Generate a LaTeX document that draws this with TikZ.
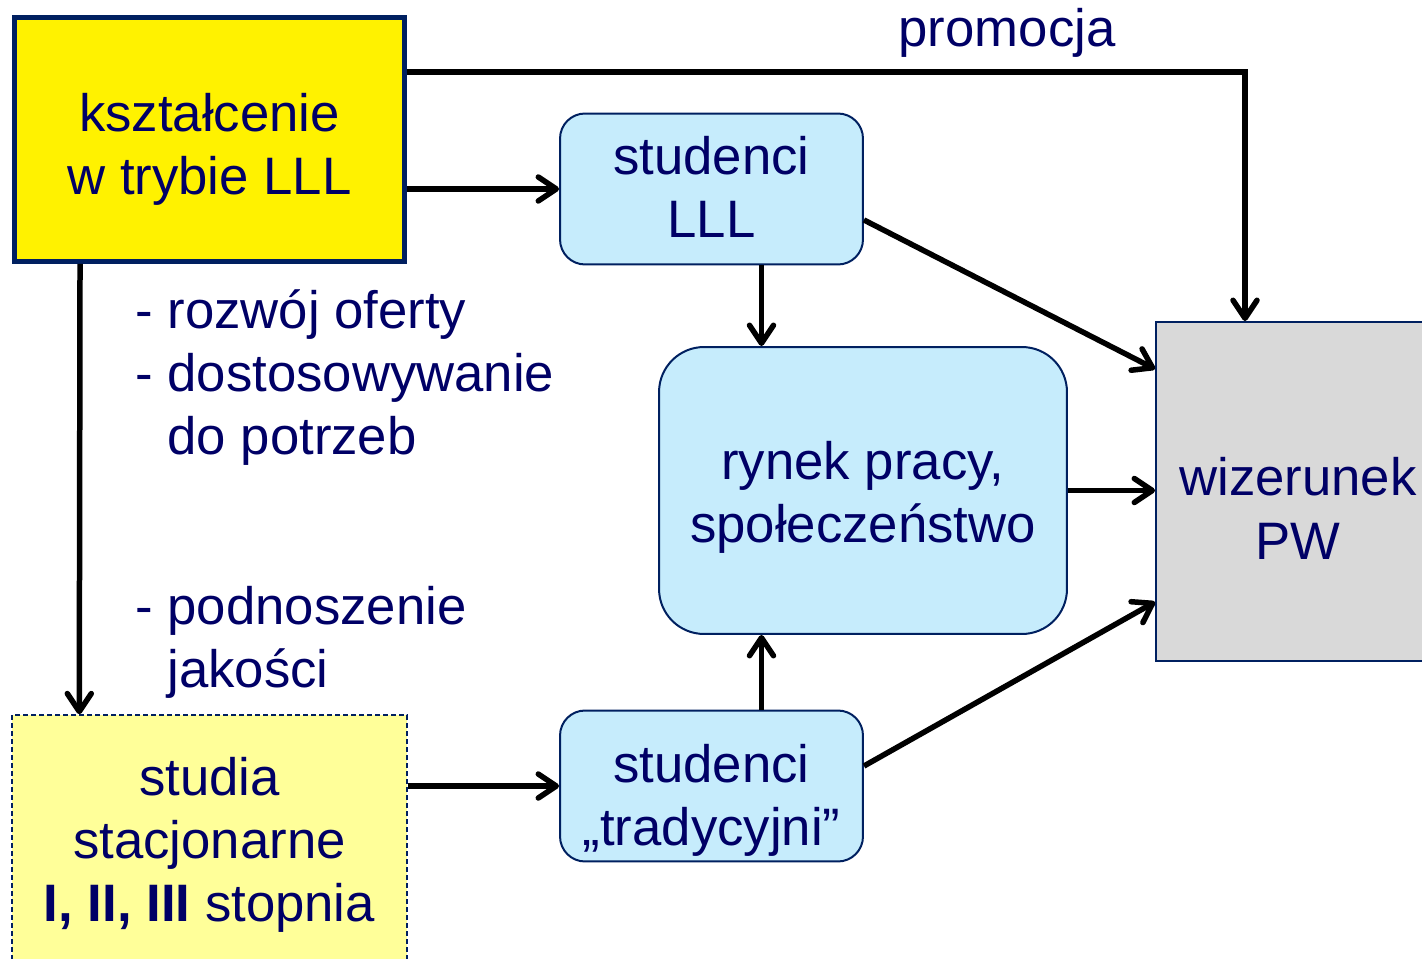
\documentclass[tikz,border=0pt]{standalone}
\usepackage{fontspec}
\setmainfont{Liberation Sans}
\usetikzlibrary{arrows.meta,positioning}

\definecolor{navy}{RGB}{0,0,102}
\definecolor{frame}{RGB}{0,32,96}
\definecolor{lightcyan}{RGB}{198,236,252}
\definecolor{paleyellow}{RGB}{255,255,153}
\definecolor{greybox}{RGB}{217,217,217}

\begin{document}
\begin{tikzpicture}[
  x=0.02cm, y=-0.02cm,
  font=\fontsize{30}{36}\selectfont, text=navy,
  box/.style={draw=frame, line width=0.04cm, inner sep=0pt},
  lll/.style={box, fill=yellow, line width=0.1cm, minimum width=7.8cm, minimum height=4.88cm},
  studia/.style={box, fill=paleyellow, line width=0.03cm, dash pattern=on 0.1cm off 0.06cm, minimum width=7.9cm, minimum height=5cm},
  stud/.style={box, fill=lightcyan, rounded corners=0.5cm, minimum width=6.06cm, minimum height=3.02cm},
  rynek/.style={box, fill=lightcyan, rounded corners=0.9cm, minimum width=8.16cm, minimum height=5.74cm},
  pw/.style={box, fill=greybox, minimum width=5.68cm, minimum height=6.78cm},
  txt/.style={align=center, inner sep=0pt},
  note/.style={align=left, inner sep=0pt, anchor=north west},
  arr/.style={-{Straight Barb[length=3.6mm,width=4.8mm,round]}, line width=0.11cm}
]
  \useasboundingbox (0,0) rectangle (1422,959);

  \node[lll] (ksz) at (209.5,139.5) {};
  \node[studia] (stac) at (209.5,840) {};
  \node[stud] (slll) at (711.5,189) {};
  \node[stud] (strad) at (711.5,786) {};
  \node[rynek] (ryn) at (863,490.5) {};
  \node[pw] (wiz) at (1298,491.5) {};

  \node[txt] (ksz-t) at ([yshift=-0.2cm]ksz) {kształcenie\\w trybie LLL};
  \node[txt] (stac-t) at ([yshift=-0.1cm]stac) {studia\\stacjonarne\\{\bfseries I, II, III} stopnia};
  \node[txt] (slll-t) at ([yshift=0.04cm]slll) {studenci\\LLL};
  \node[txt] (strad-t) at ([yshift=-0.28cm]strad) {studenci\\„tradycyjni”};
  \node[txt] (ryn-t) at ([yshift=-0.14cm]ryn) {rynek pracy,\\społeczeństwo};
  \node[txt] (wiz-t) at ([yshift=-0.34cm]wiz) {wizerunek\\PW};

  \node (promo) at (1007,33) {promocja};
  \node[note] (oferta) at (135,289) {- rozwój oferty\\- dostosowywanie\\\phantom{- }do potrzeb};
  \node[note] (jakosc) at (135,586) {- podnoszenie\\\phantom{- }jakości};

  \coordinate (zakret) at (1245,72);

  \draw[arr] (ksz.east |- zakret) -- (zakret) -- (zakret |- wiz.north);
  \draw[arr] (ksz.east |- slll.west) -- (slll.west);
  \draw[arr] ([xshift=1.36cm]ksz.south west) -- ([xshift=1.36cm]stac.north west);
  \draw[arr] (stac.east |- strad.west) -- (strad.west);

  \draw[arr] ([xshift=1cm]slll.south) -- ([xshift=1cm]slll.south |- ryn.north);
  \draw[arr] ([xshift=1cm]strad.north) -- ([xshift=1cm]strad.north |- ryn.south);

  \draw[arr] ([yshift=-0.62cm]slll.east) -- ([yshift=-0.96cm]wiz.north west);
  \draw[arr] (ryn.east) -- (ryn.east -| wiz.west);
  \draw[arr] ([yshift=0.4cm]strad.east) -- ([yshift=1.2cm]wiz.south west);
\end{tikzpicture}
\end{document}
